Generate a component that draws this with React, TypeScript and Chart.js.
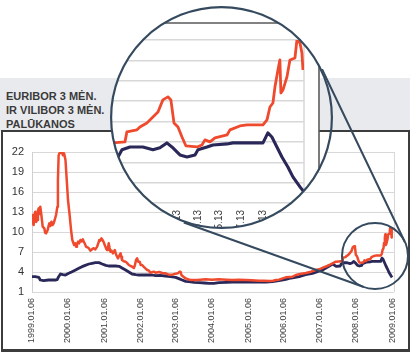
import React, { useEffect, useRef } from 'react';
import { Chart, registerables } from 'chart.js';

Chart.register(...registerables);

// ---------- data (x = years elapsed since 1999.01.06) ----------
const yearLabels = [
  '1999.01.06', '2000.01.06', '2001.01.06', '2002.01.06', '2003.01.06', '2004.01.06',
  '2005.01.06', '2006.01.06', '2007.01.06', '2008.01.06', '2009.01.06',
];
const zoomLabels = ['2007.11.13', '2008.01.13', '2008.03.13', '2008.05.13', '2008.07.13', '2008.09.13', '2008.11.13'];

const viliborT = [
  0, 0.02, 0.046, 0.07, 0.093, 0.115, 0.14, 0.165, 0.186, 0.21, 0.23, 0.26, 0.297, 0.343, 0.365, 0.39, 0.436, 0.46, 0.48, 0.51, 0.54, 0.575, 0.6, 0.63, 0.668, 0.705, 0.72, 0.74, 0.76, 0.8, 0.835, 0.86, 0.89, 0.93, 0.965,
  1.0, 1.05, 1.085, 1.12, 1.17, 1.2, 1.225, 1.25, 1.28, 1.31, 1.345, 1.38, 1.41, 1.44, 1.465, 1.5, 1.54, 1.58, 1.62, 1.65, 1.68, 1.716, 1.76, 1.81, 1.84, 1.87, 1.9, 1.93, 1.96, 1.985,
  2.01, 2.04, 2.06, 2.087, 2.11, 2.13, 2.155, 2.18, 2.21, 2.245, 2.27, 2.3, 2.32, 2.34, 2.39, 2.43, 2.46, 2.48, 2.5, 2.55, 2.6, 2.65, 2.69, 2.74, 2.78, 2.83, 2.86, 2.89, 2.92, 2.95, 2.99,
  3.02, 3.06, 3.1, 3.15, 3.2, 3.25, 3.29, 3.38, 3.43, 3.53, 3.62, 3.71, 3.8, 3.9, 3.99,
  4.05, 4.1, 4.13, 4.15, 4.2, 4.27, 4.35, 4.41, 4.6, 4.82,
  5.0, 5.19, 5.4, 5.57, 5.75, 5.94,
  6.1, 6.31, 6.45, 6.6, 6.7, 6.77, 6.86,
  7.05, 7.24, 7.33, 7.45, 7.61, 7.75, 7.88, 7.98,
  8.1, 8.2, 8.26, 8.35, 8.44, 8.523, 8.616, 8.631, 8.709, 8.732, 8.786, 8.833, 8.872, 8.91, 8.949, 8.972, 8.996,
  9.027, 9.058, 9.089, 9.174, 9.213, 9.236, 9.275, 9.314, 9.407, 9.43, 9.507, 9.562, 9.686, 9.717, 9.74, 9.763, 9.779, 9.802, 9.817, 9.825, 9.841, 9.872, 9.895, 9.934, 9.949, 9.973, 9.988, 9.996,
];
const viliborV = [
  12.55, 11.4, 11.05, 12.6, 13.05, 11.5, 11.8, 13.2, 13.55, 12.7, 13.8, 12.55, 10.8, 10.55, 9.9, 9.8, 10.3, 10.9, 11.3, 10.9, 11.55, 11.05, 11.3, 11.8, 12.55, 13.8, 17.8, 21.5, 21.8, 21.9, 21.9, 21.5, 21.8, 20.8, 17.8,
  14.8, 12.3, 10.3, 8.8, 8.05, 8.3, 7.8, 8.2, 8.55, 8.3, 8.8, 8.6, 8.9, 8.5, 8.3, 7.8, 7.7, 7.55, 7.2, 7.3, 7.5, 7.55, 7.4, 7.8, 8.3, 8.8, 8.7, 9.05, 8.8, 8.55,
  8.2, 7.8, 7.5, 7.3, 7.6, 8.3, 7.6, 7.05, 7.2, 6.8, 7.0, 7.3, 6.9, 6.55, 6.05, 6.5, 6.8, 6.3, 5.8, 5.6, 5.55, 5.3, 5.05, 4.9, 4.8, 4.6, 5.05, 5.8, 6.05, 5.55, 5.55,
  5.05, 5.05, 4.8, 4.55, 4.3, 4.2, 3.9, 4.05, 3.9, 4.0, 3.85, 3.8, 3.6, 3.6, 3.75,
  3.8, 4.05, 4.0, 3.55, 3.3, 3.05, 2.9, 2.8, 2.8, 2.9,
  2.85, 2.9, 2.85, 2.8, 2.85, 2.8,
  2.75, 2.7, 2.7, 2.65, 2.7, 2.8, 2.85,
  3.2, 3.3, 3.55, 3.7, 3.85, 4.05, 4.3, 4.4,
  4.7, 4.9, 5.05, 5.3, 5.55, 5.59, 5.64, 6.13, 6.23, 6.37, 6.57, 6.86, 7.11, 7.7, 7.85, 7.7, 6.57,
  6.37, 5.88, 5.44, 5.39, 5.49, 5.74, 5.64, 5.84, 5.98, 6.23, 6.42, 6.47, 6.47, 6.72, 7.35, 7.55, 8.34, 9.17, 9.66, 8.04, 8.19, 8.83, 9.66, 9.76, 10.64, 10.49, 10.0, 9.17,
];

const euriborT = [
  0, 0.09, 0.19, 0.23, 0.32, 0.46, 0.65, 0.7, 0.74, 0.79, 0.86, 0.93,
  1.02, 1.1, 1.21, 1.3, 1.39, 1.48, 1.58, 1.67, 1.76, 1.86, 1.95,
  2.05, 2.13, 2.32, 2.42, 2.5, 2.6, 2.69, 2.78, 2.88, 2.97,
  3.15, 3.34, 3.43, 3.55, 3.71, 3.85, 3.99,
  4.08, 4.17, 4.27, 4.36, 4.5, 4.64, 4.8, 4.92,
  5.05, 5.19, 5.4, 5.57, 5.8, 5.94,
  6.31, 6.5, 6.68, 6.86,
  7.05, 7.2, 7.42, 7.6, 7.79, 7.95,
  8.07, 8.2, 8.26, 8.35, 8.45, 8.562, 8.593, 8.655, 8.755, 8.833, 8.887, 8.941, 8.98,
  9.042, 9.097, 9.159, 9.182, 9.252, 9.298, 9.407, 9.453, 9.686, 9.724, 9.755, 9.794, 9.833, 9.879, 9.918, 9.973, 10.003,
];
const euriborV = [
  3.3, 3.3, 3.2, 2.8, 2.7, 2.8, 2.8, 2.85, 3.3, 3.7, 3.6, 3.55,
  3.8, 4.0, 4.3, 4.55, 4.8, 5.0, 5.2, 5.3, 5.4, 5.4, 5.2,
  5.0, 4.9, 4.9, 4.85, 4.6, 4.3, 4.0, 3.7, 3.6, 3.55,
  3.55, 3.55, 3.45, 3.5, 3.4, 3.3, 3.2,
  3.0, 2.8, 2.6, 2.55, 2.45, 2.4, 2.35, 2.3,
  2.3, 2.4, 2.45, 2.5, 2.5, 2.5,
  2.5, 2.5, 2.55, 2.7,
  2.9, 3.1, 3.3, 3.6, 3.8, 4.1,
  4.3, 4.7, 4.9, 5.2, 4.85, 4.9, 5.25, 5.39, 5.39, 5.25, 5.35, 5.59, 5.39,
  5.0, 4.9, 5.0, 5.25, 5.39, 5.49, 5.54, 5.59, 5.59, 6.08, 5.88, 5.39, 4.9, 4.41, 3.92, 3.43, 3.19,
];

// ---------- styles ----------
const FONT = '"Liberation Sans", Arial, Helvetica, sans-serif';
const RED = '#ef4a2d';
const NAVY = '#2a2858';
const RING = '#354a5e';
const GRID = '#d8d8d8';
const BAND = '#e9eaee';
const FRAME = '#3c3c3c';

// lens geometry (page pixels)
const LENS = { x: 221.5, y: 117.5, r: 111.5 };
const SPOT = { x: 375, y: 256, r: 33 };
const LENS_LEFT = LENS.x - LENS.r;
const LENS_TOP = LENS.y - LENS.r;
const LENS_SIZE = LENS.r * 2;

function toYears(label: string): number {
  const [y, m, d] = label.split('.').map(Number);
  return (Date.UTC(y, m - 1, d) - Date.UTC(1999, 0, 6)) / (365.25 * 864e5);
}

const pts = (ts: number[], vs: number[]) => ts.map((t, i) => ({ x: t, y: vs[i] }));

const mainDecor = {
  id: 'mainDecor',
  afterDraw(chart: any) {
    const { ctx, chartArea: a } = chart;
    ctx.save();
    ctx.strokeStyle = GRID;
    ctx.lineWidth = 1;
    ctx.beginPath();
    ctx.moveTo(Math.round(a.right) + 0.5, a.top);
    ctx.lineTo(Math.round(a.right) + 0.5, a.bottom);
    ctx.stroke();
    // magnifier spot and connecting tangents
    ctx.strokeStyle = RING;
    ctx.lineWidth = 2;
    ctx.beginPath();
    ctx.arc(SPOT.x, SPOT.y, SPOT.r, 0, Math.PI * 2);
    ctx.stroke();
    const dx = SPOT.x - LENS.x, dy = SPOT.y - LENS.y;
    const d = Math.hypot(dx, dy);
    const phi = Math.atan2(dy, dx);
    const th = Math.acos((LENS.r - SPOT.r) / d);
    ctx.beginPath();
    for (const ang of [phi + th, phi - th]) {
      const c = Math.cos(ang), s = Math.sin(ang);
      ctx.moveTo(LENS.x + LENS.r * c, LENS.y + LENS.r * s);
      ctx.lineTo(SPOT.x + SPOT.r * c, SPOT.y + SPOT.r * s);
    }
    ctx.stroke();
    ctx.restore();
  },
};

const lensDecor = {
  id: 'lensDecor',
  beforeDraw(chart: any) {
    const { ctx, chartArea: a } = chart;
    const R = LENS.r;
    ctx.save();
    ctx.beginPath();
    ctx.arc(R, R, R - 0.5, 0, Math.PI * 2);
    ctx.clip();
    ctx.fillStyle = '#fff';
    ctx.fillRect(0, 0, LENS_SIZE, LENS_SIZE);
    // page band visible to the right of the magnified frame
    ctx.fillStyle = BAND;
    ctx.fillRect(320 - LENS_LEFT, 78 - LENS_TOP, 60, 53);
    ctx.strokeStyle = FRAME;
    ctx.lineWidth = 2;
    ctx.beginPath();
    ctx.moveTo(319 - LENS_LEFT, 131 - LENS_TOP);
    ctx.lineTo(LENS_SIZE, 131 - LENS_TOP);
    ctx.stroke();
    // magnified chart frame
    ctx.strokeStyle = '#5a5a5a';
    ctx.lineWidth = 1.6;
    ctx.beginPath();
    ctx.moveTo(0, 23 - LENS_TOP);
    ctx.lineTo(319 - LENS_LEFT, 23 - LENS_TOP);
    ctx.lineTo(319 - LENS_LEFT, LENS_SIZE);
    ctx.stroke();
    ctx.strokeStyle = GRID;
    ctx.lineWidth = 1.5;
    ctx.beginPath();
    ctx.moveTo(a.right, a.top);
    ctx.lineTo(a.right, a.bottom);
    ctx.stroke();
  },
  afterDraw(chart: any) {
    const ctx = chart.ctx;
    ctx.restore();
    ctx.save();
    ctx.strokeStyle = RING;
    ctx.lineWidth = 2.2;
    ctx.beginPath();
    ctx.arc(LENS.r, LENS.r, LENS.r - 1.1, 0, Math.PI * 2);
    ctx.stroke();
    ctx.restore();
  },
};

export default function App() {
  const mainRef = useRef<HTMLCanvasElement>(null);
  const zoomRef = useRef<HTMLCanvasElement>(null);

  useEffect(() => {
    const datasets = (w: number) => [
      {
        label: 'VILIBOR 3 mėn.',
        data: pts(viliborT, viliborV),
        borderColor: RED,
        borderWidth: w,
        pointRadius: 0,
        tension: 0,
        borderJoinStyle: 'round' as const,
        order: 0,
      },
      {
        label: 'EURIBOR 3 mėn.',
        data: pts(euriborT, euriborV),
        borderColor: NAVY,
        borderWidth: w + 0.3,
        pointRadius: 0,
        tension: 0,
        borderJoinStyle: 'round' as const,
        order: 1,
      },
    ];

    const main = new Chart(mainRef.current!, {
      type: 'line',
      data: { datasets: datasets(2.5) as any },
      options: {
        responsive: false,
        animation: false,
        events: [],
        layout: { padding: { left: 0, top: 152, right: 20, bottom: 0 } },
        plugins: { legend: { display: false }, tooltip: { enabled: false } },
        scales: {
          x: {
            type: 'linear',
            min: 0,
            max: 10.056,
            afterBuildTicks: (s: any) => {
              s.ticks = yearLabels.map((l) => ({ value: toYears(l) }));
            },
            afterFit: (s: any) => {
              s.height = 63;
            },
            grid: { display: false, drawTicks: false },
            border: { display: false },
            ticks: {
              autoSkip: false,
              minRotation: 90,
              maxRotation: 90,
              padding: 6,
              color: '#404040',
              font: { family: FONT, size: 9 },
              callback: (_v: any, i: number) => yearLabels[i],
            },
          },
          y: {
            min: 1,
            max: 22,
            afterFit: (s: any) => {
              s.width = 32;
            },
            ticks: { stepSize: 3, padding: 8, color: '#333', font: { family: FONT, size: 11 } },
            grid: { color: GRID, lineWidth: 1, drawTicks: false },
            border: { display: true, color: '#d0d0d0' },
          },
        },
      },
      plugins: [mainDecor],
    });

    const zoom = new Chart(zoomRef.current!, {
      type: 'line',
      data: { datasets: datasets(2.8) as any },
      options: {
        responsive: false,
        animation: false,
        events: [],
        layout: { padding: { left: 0, top: 34, right: 29, bottom: 0 } },
        plugins: { legend: { display: false }, tooltip: { enabled: false } },
        scales: {
          x: {
            type: 'linear',
            min: 8.5,
            max: 10.004,
            afterBuildTicks: (s: any) => {
              s.ticks = zoomLabels.map((l) => ({ value: toYears(l) }));
            },
            afterFit: (s: any) => {
              s.height = 26;
            },
            grid: { display: false, drawTicks: false },
            border: { display: false },
            ticks: {
              autoSkip: false,
              minRotation: 90,
              maxRotation: 90,
              padding: 7,
              color: '#404040',
              font: { family: FONT, size: 10 },
              callback: (_v: any, i: number) => zoomLabels[i],
            },
          },
          y: {
            min: 2.64,
            max: 10.64,
            afterFit: (s: any) => {
              s.width = 0;
            },
            ticks: { display: false, count: 9 },
            grid: { color: GRID, lineWidth: 1.5, drawTicks: false },
            border: { display: false },
          },
        },
      },
      plugins: [lensDecor],
    });

    return () => {
      main.destroy();
      zoom.destroy();
    };
  }, []);

  return (
    <div style={{ position: 'absolute', left: 0, top: 0, width: 414, height: 355, overflow: 'hidden', background: '#fff' }}>
      <div style={{ position: 'absolute', left: 0, top: 78, width: 410, height: 53, background: BAND }} />
      <div
        style={{
          position: 'absolute',
          left: 1,
          top: 130,
          width: 409,
          height: 222,
          boxSizing: 'border-box',
          border: `2px solid ${FRAME}`,
          borderBottomWidth: 3,
          background: '#fff',
        }}
      />
      <div
        style={{
          position: 'absolute',
          left: 6,
          top: 89,
          fontFamily: FONT,
          fontWeight: 700,
          fontSize: 11,
          lineHeight: '14px',
          color: '#3a3a3a',
          whiteSpace: 'nowrap',
        }}
      >
        EURIBOR 3 MĖN.
        <br />
        IR VILIBOR 3 MĖN.
        <br />
        PALŪKANOS
      </div>
      <canvas ref={mainRef} width={414} height={355} style={{ position: 'absolute', left: 0, top: 0 }} />
      <canvas
        ref={zoomRef}
        width={LENS_SIZE}
        height={LENS_SIZE}
        style={{ position: 'absolute', left: LENS_LEFT, top: LENS_TOP }}
      />
    </div>
  );
}
